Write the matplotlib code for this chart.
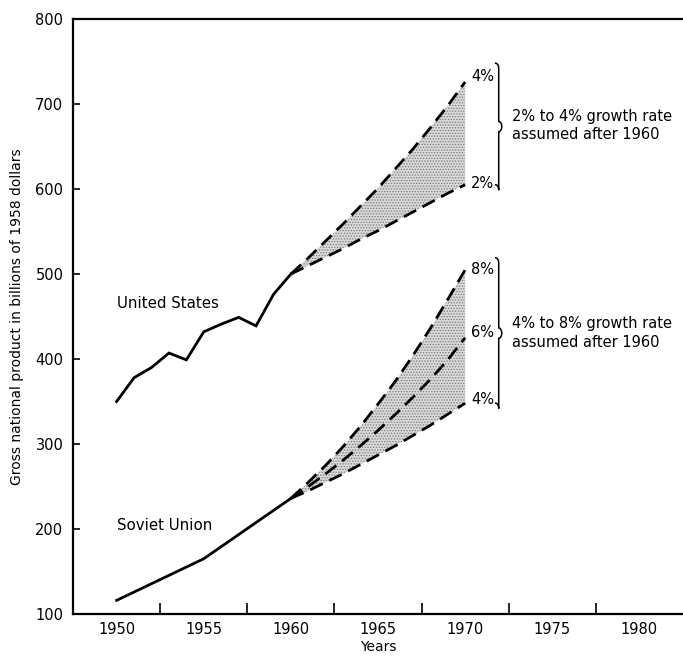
import numpy as np
import matplotlib
matplotlib.use("Agg")
import matplotlib.pyplot as plt

# ---- data
hist_years_us = [1950, 1951, 1952, 1953, 1954, 1955, 1956, 1957, 1958, 1959, 1960]
us_gnp = [350, 378, 390, 407, 399, 432, 441, 449, 439, 476, 500]

hist_years_su = [1950, 1955, 1960]
su_gnp = [116, 165, 236]

proj_years = list(range(1960, 1971))
us_4pct = [500, 519, 539, 559, 580, 601, 624, 647, 672, 698, 726]
us_2pct = [500, 510, 520, 530, 541, 551, 562, 573, 584, 595, 605]
su_8pct = [236, 255, 275, 297, 321, 347, 374, 404, 436, 470, 505]
su_6pct = [236, 250, 265, 281, 298, 316, 335, 355, 376, 399, 425]
su_4pct = [236, 245, 255, 265, 276, 287, 298, 310, 322, 335, 348]

x_ticks = [1950, 1955, 1960, 1965, 1970, 1975, 1980]
x_minor = [1952.5, 1957.5, 1962.5, 1967.5, 1972.5, 1977.5]
y_ticks = [100, 200, 300, 400, 500, 600, 700, 800]

plt.rcParams["font.family"] = ["DejaVu Sans"]
plt.rcParams["hatch.linewidth"] = 0.6

fig = plt.figure(figsize=(6.83, 6.57), dpi=100)
ax = fig.add_axes([0.107, 0.0655, 0.893, 0.9055])

dash = (0, (5, 2.6))
stip = dict(facecolor="#d9d9d9", edgecolor="#7a7a7a", hatch="......", linewidth=0)

# shaded projection bands
ax.fill_between(proj_years, us_2pct, us_4pct, **stip)
ax.fill_between(proj_years, su_4pct, su_8pct, **stip)

# historical series
ax.plot(hist_years_us, us_gnp, color="black", lw=2.0, solid_joinstyle="miter")
ax.plot(hist_years_su, su_gnp, color="black", lw=2.0)

# projections
for ser in (us_4pct, us_2pct, su_8pct, su_6pct, su_4pct):
    ax.plot(proj_years, ser, color="black", lw=2.0, linestyle=dash)

# series labels
ax.text(1950.0, 465, "United States", fontsize=10.8, va="center")
ax.text(1950.0, 204, "Soviet Union", fontsize=10.8, va="center")

# end-of-line percentages
for val, txt in [(732, "4%"), (607, "2%"), (505, "8%"), (431, "6%"), (352, "4%")]:
    ax.text(1970.35, val, txt, fontsize=10.5, va="center")


def brace(x, y0, y1, w=0.35):
    """right-facing curly brace drawn as a path in data coords"""
    ym = (y0 + y1) / 2
    t = np.linspace(0, 1, 40)
    r = 6
    seg1 = np.c_[np.full(2, x + w * 0.5), [y1 - r, ym + r]]
    mid1 = np.c_[x + w * 0.5 + w * 0.5 * np.sin(t * np.pi / 2), ym + r * np.cos(t * np.pi / 2)]
    mid2 = np.c_[x + w * 0.5 + w * 0.5 * np.cos(t * np.pi / 2), ym - r * np.sin(t * np.pi / 2)]
    seg2 = np.c_[np.full(2, x + w * 0.5), [ym - r, y0 + r]]
    pts = np.vstack([np.c_[x + w * 0.5 * np.sin(t * np.pi / 2), y1 - r * (1 - np.cos(t * np.pi / 2))],
                     seg1, mid1, mid2, seg2,
                     np.c_[x + w * 0.5 * np.cos(t * np.pi / 2), y0 + r * np.sin(t * np.pi / 2)]])
    ax.plot(pts[:, 0], pts[:, 1], color="black", lw=1.1, clip_on=False)


brace(1971.75, 599, 748)
brace(1971.75, 342, 519)

ax.text(1972.7, 685, "2% to 4% growth rate", fontsize=10.5, va="center")
ax.text(1972.7, 664, "assumed after 1960", fontsize=10.5, va="center")
ax.text(1972.7, 442, "4% to 8% growth rate", fontsize=10.5, va="center")
ax.text(1972.7, 420, "assumed after 1960", fontsize=10.5, va="center")

# axes styling
ax.set_xlim(1947.5, 1982.5)
ax.set_ylim(100, 800)
ax.set_xticks(x_ticks)
ax.set_xticks(x_minor, minor=True)
ax.set_yticks(y_ticks)
ax.tick_params(axis="x", which="major", length=0, labelsize=10.5, pad=6)
ax.tick_params(axis="x", which="minor", direction="in", length=8, width=1.2)
ax.tick_params(axis="y", direction="in", length=5, width=1.2, labelsize=10.5, pad=7)
ax.spines["right"].set_visible(False)
for s in ("left", "bottom", "top"):
    ax.spines[s].set_linewidth(1.6)

ax.set_xlabel("Years", fontsize=10, labelpad=2)
ax.set_ylabel("Gross national product in billions of 1958 dollars", fontsize=10, labelpad=8)

fig.savefig("out.png", dpi=100)
